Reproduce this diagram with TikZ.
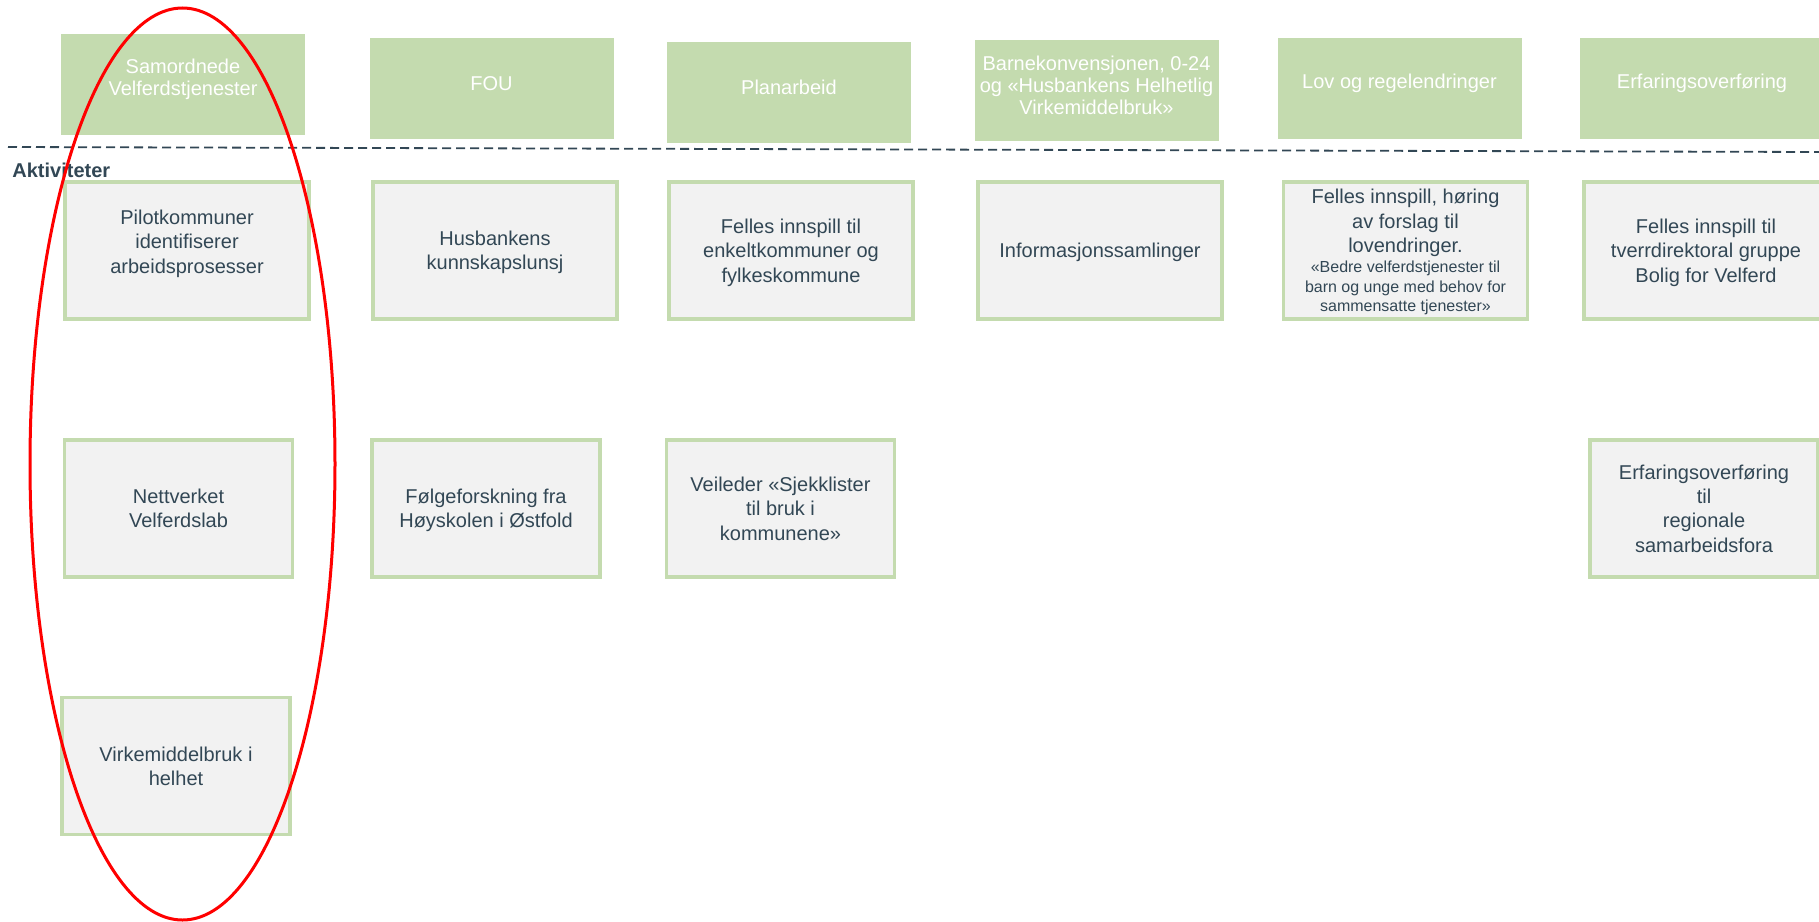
\documentclass[tikz,border=0pt]{standalone}
\usepackage{fontspec}
\setmainfont{Liberation Sans}
\definecolor{hdrgreen}{RGB}{196,219,175}
\definecolor{boxgrey}{RGB}{242,242,242}
\definecolor{slate}{RGB}{50,71,85}

\begin{document}
\begin{tikzpicture}[x=0.5pt,y=-0.5pt,
  hdr/.style={fill=hdrgreen,minimum width=122pt,minimum height=50.5pt,inner sep=0pt},
  hdrtxt/.style={text=white,align=center,font=\fontsize{10}{11}\selectfont,inner sep=0pt},
  act/.style={draw=hdrgreen,line width=1.8pt,fill=boxgrey,text=slate,align=center,
    font=\fontsize{10}{12.2}\selectfont,minimum width=122pt,minimum height=68.5pt,inner sep=2pt,
    text depth=-4pt},
  actnarrow/.style={act,minimum width=114pt}]
\useasboundingbox (0,0) rectangle (1819,921);
\node[hdr] (hSam) at (183,84.5) {};
\node[hdr] (hFou) at (491.5,88.5) {};
\node[hdr] (hPlan) at (789,92) {};
\node[hdr] (hBarn) at (1096.5,90.5) {};
\node[hdr] (hLov) at (1399.5,88.5) {};
\node[hdr] (hErf) at (1702,88.5) {};
\node[hdrtxt] (tSam) at ([yshift=2.5pt]hSam.center) {Samordnede\\Velferdstjenester};
\node[hdrtxt] (tFou) at ([yshift=2.5pt]hFou.center) {FOU};
\node[hdrtxt] (tPlan) at ([yshift=2.5pt]hPlan.center) {Planarbeid};
\node[hdrtxt] (tBarn) at ([yshift=2.5pt]hBarn.center) {Barnekonvensjonen, 0-24\\og «Husbankens Helhetlig\\Virkemiddelbruk»};
\node[hdrtxt] (tLov) at ([yshift=2.5pt]hLov.center) {Lov og regelendringer};
\node[hdrtxt] (tErf) at ([yshift=2.5pt]hErf.center) {Erfaringsoverføring};
\draw[slate,line width=0.9pt,dash pattern=on 4.5pt off 2.5pt] (8,147) -- (1819,152);
\node[anchor=base west,inner sep=0pt,text=slate,font=\fontsize{10}{12}\selectfont\bfseries] (akt) at (12,177) {Aktiviteter};
\node[act,text depth=8.9pt] (aPilot) at (187,250.5) {Pilotkommuner\\identifiserer\\arbeidsprosesser};
\node[act] (aLunsj) at (495,250.5) {Husbankens\\kunnskapslunsj};
\node[act] (aFelles) at (791,250.5) {Felles innspill til\\enkeltkommuner og\\fylkeskommune};
\node[act] (aInfo) at (1100,250.5) {Informasjonssamlinger};
\node[act] (aHoring) at (1405.5,250.5) {Felles innspill, høring\\av forslag til\\lovendringer.\\[-2.3pt]
  {\fontsize{8}{9.8}\selectfont «Bedre velferdstjenester til}\\[-2.3pt]
  {\fontsize{8}{9.8}\selectfont barn og unge med behov for}\\[-2.3pt]
  {\fontsize{8}{9.8}\selectfont sammensatte tjenester»}};
\node[act] (aTverr) at (1706,250.5) {Felles innspill til\\tverrdirektoral gruppe\\Bolig for Velferd};
\node[actnarrow] (bLab) at (178.5,508.5) {Nettverket\\Velferdslab};
\node[actnarrow] (bForsk) at (486,508.5) {Følgeforskning fra\\Høyskolen i Østfold};
\node[actnarrow] (bVeil) at (780.5,508.5) {Veileder «Sjekklister\\til bruk i\\kommunene»};
\node[actnarrow] (bRegion) at (1704,508.5) {Erfaringsoverføring\\til\\regionale\\samarbeidsfora};
\node[actnarrow] (cHelhet) at (176,766) {Virkemiddelbruk i\\helhet};
\draw[red,line width=1.5pt] (182.5,464) ellipse [x radius=152.5,y radius=456];
\end{tikzpicture}
\end{document}
